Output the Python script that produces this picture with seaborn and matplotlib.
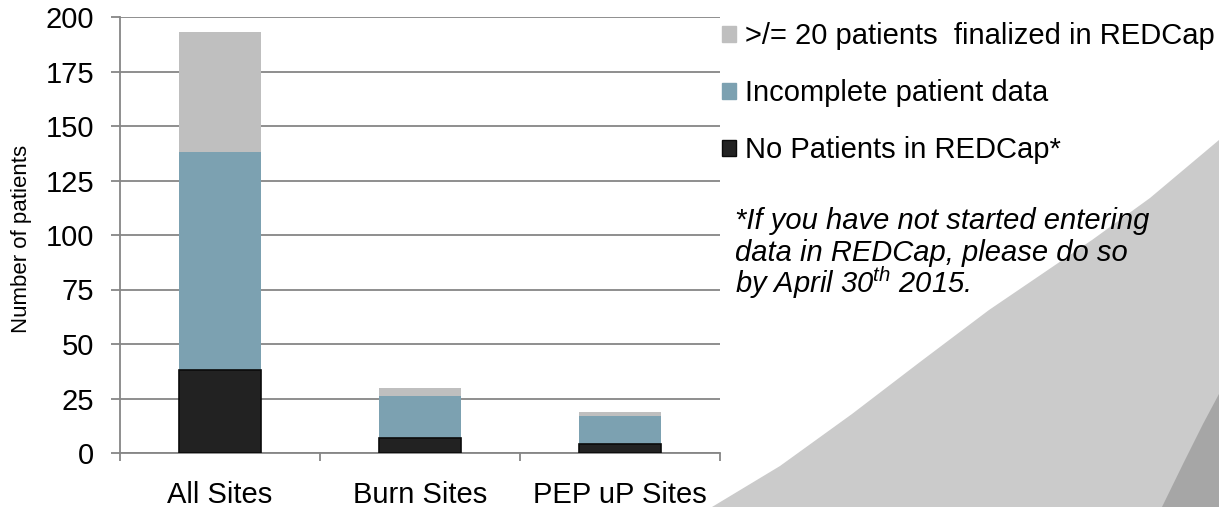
import matplotlib
matplotlib.use('Agg')
import matplotlib.pyplot as plt
import pandas as pd
import seaborn as sns
from matplotlib.patches import Patch, Polygon

# Data
sites = ['All Sites', 'Burn Sites', 'PEP uP Sites']
no_patients = [38, 7, 4]
incomplete = [100, 19, 13]
finalized = [55, 4, 2]

series_labels = ['>/= 20 patients  finalized in REDCap',
                 'Incomplete patient data',
                 'No Patients in REDCap*']
series_colors = ['#bfbfbf', '#7ca1b1', '#222222']
y_ticks = [0, 25, 50, 75, 100, 125, 150, 175, 200]

note_lines = ['*If you have not started entering',
              'data in REDCap, please do so',
              'by April 30$^{th}$ 2015.']

sns.set_theme(style='white')
plt.rcParams['font.family'] = ['Liberation Sans', 'DejaVu Sans']
plt.rcParams['text.color'] = 'black'
plt.rcParams['xtick.labelcolor'] = 'black'
plt.rcParams['ytick.labelcolor'] = 'black'
plt.rcParams['axes.labelcolor'] = 'black'
plt.rcParams['mathtext.fontset'] = 'custom'
plt.rcParams['mathtext.it'] = 'Liberation Sans:italic'
plt.rcParams['mathtext.rm'] = 'Liberation Sans'

df = pd.DataFrame({'site': sites, 'none': no_patients,
                   'incomplete': incomplete, 'finalized': finalized})
df['lvl2'] = df['none'] + df['incomplete']
df['lvl3'] = df['lvl2'] + df['finalized']

W, H = 1219, 507
fs = 21
fig = plt.figure(figsize=(W / 100, H / 100), dpi=100)

# grey swoosh in the background
def px(pts):
    return [(x / W, 1 - y / H) for x, y in pts]

light = px([(712, 507), (780, 466), (852, 414), (920, 362), (989, 310),
            (1092, 240), (1150, 198), (1219, 140), (1219, 507)])
dark = px([(1162, 507), (1184, 462), (1203, 424), (1219, 394), (1219, 507)])
fig.patches.append(Polygon(light, closed=True, facecolor='#cbcbcb', edgecolor='none',
                           transform=fig.transFigure, zorder=0))
fig.patches.append(Polygon(dark, closed=True, facecolor='#a6a6a6', edgecolor='none',
                           transform=fig.transFigure, zorder=0))

ax = fig.add_axes([120 / W, 1 - 453 / H, 600 / W, (453 - 17) / H])
ax.patch.set_alpha(0)

# stacked bars: draw cumulative totals, largest first
for col, c in zip(['lvl3', 'lvl2', 'none'], series_colors):
    sns.barplot(data=df, x='site', y=col, color=c, width=0.41, saturation=1,
                ax=ax, zorder=3,
                edgecolor='#0a0a0a' if col == 'none' else c,
                linewidth=1.2 if col == 'none' else 0)

ax.set_xlim(-0.5, 2.5)
ax.set_ylim(0, 200)
ax.set_yticks(y_ticks)
ax.set_xlabel('')
ax.set_ylabel('Number of patients', fontsize=16)
ax.yaxis.set_label_coords(-0.147, 0.49)

grid_c = '#868686'
ax.grid(axis='y', color=grid_c, linewidth=1.3, zorder=1)
for s in ['top', 'right']:
    ax.spines[s].set_visible(False)
for s in ['left', 'bottom']:
    ax.spines[s].set_color(grid_c)
    ax.spines[s].set_linewidth(1.3)

ax.tick_params(axis='y', direction='out', length=6.5, width=1.3, color=grid_c,
               labelsize=fs, pad=12, left=True)
ax.tick_params(axis='x', which='major', length=0, pad=20, labelsize=fs)
ax.set_xticks([-0.5, 0.5, 1.5, 2.5], minor=True)
ax.tick_params(axis='x', which='minor', direction='out', length=6, width=1.3,
               color=grid_c, bottom=True)

handles = [Patch(facecolor=c, edgecolor='#0a0a0a' if i == 2 else c)
           for i, c in enumerate(series_colors)]
ax.legend(handles, series_labels, loc='upper left',
          bbox_to_anchor=(722 / W, 1 - 22 / H), bbox_transform=fig.transFigure,
          frameon=False, fontsize=fs, handlelength=0.48, handleheight=0.48,
          handletextpad=0.3, labelspacing=1.0, borderaxespad=0, borderpad=0)

# footnote, one line at a time so the superscript does not stretch the spacing
for i, line in enumerate(note_lines):
    fig.text(735 / W, 1 - (229 + 32 * i) / H, line, fontsize=fs, style='italic',
             va='baseline', ha='left')

fig.savefig('out.png', dpi=100)
